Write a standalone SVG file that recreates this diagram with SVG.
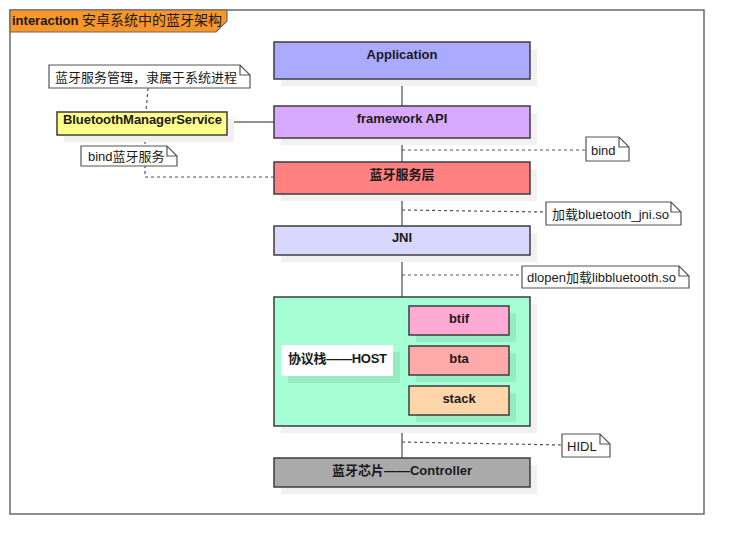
<svg xmlns="http://www.w3.org/2000/svg" width="744" height="554" viewBox="0 0 744 554">
<style>
.box{stroke:#3c3c3c;stroke-width:1.5}
.sh{fill:#f1f1f1}
.t{font-family:"Liberation Sans","Noto Sans CJK SC",sans-serif;font-size:13px;fill:#1a1a1a}
.b{font-weight:bold;text-anchor:middle}
.note{fill:#ffffff;stroke:#555;stroke-width:1.2}
.ln{stroke:#6e6e6e;stroke-width:1.5;fill:none}
.dl{stroke:#555;stroke-width:1.2;stroke-dasharray:3,3;fill:none}
</style>
<rect width="744" height="554" fill="#ffffff"/>
<g id="frame">
<rect x="10" y="10" width="694" height="504" fill="none" stroke="#6a6a6a" stroke-width="1.5"/>
<path d="M10,10 H227 V21 L216,32 H10 Z" fill="#F7962A" stroke="#6a6a6a" stroke-width="1.2"/>
<text class="t" x="12" y="25"><tspan font-weight="bold">interaction</tspan> <tspan font-size="14px">安卓系统中的蓝牙架构</tspan></text>
</g>
<g id="connectors">
<line class="ln" x1="402" y1="79" x2="402" y2="106"/>
<line class="ln" x1="402" y1="138" x2="402" y2="162"/>
<line class="ln" x1="402" y1="194" x2="402" y2="226"/>
<line class="ln" x1="402" y1="255" x2="402" y2="297"/>
<line class="ln" x1="402" y1="426" x2="402" y2="458"/>
<line class="ln" x1="459" y1="335" x2="459" y2="346"/>
<line class="ln" x1="459" y1="375" x2="459" y2="386"/>
<line class="ln" x1="227" y1="122" x2="274" y2="122"/>
<path class="dl" d="M148,88 L146,112"/>
<path class="dl" d="M145,135 V177 H274"/>
<path class="dl" d="M402,150 H586"/>
<path class="dl" d="M402,210 L546,212"/>
<path class="dl" d="M402,275 H522"/>
<path class="dl" d="M402,442 L562,445"/>
</g>
<g id="application">
<rect class="sh" x="281" y="49" width="256" height="37"/>
<rect class="box" x="274" y="42" width="256" height="37" fill="#AAAAFF"/>
<text class="t b" x="402" y="59">Application</text>
</g>
<g id="framework">
<rect class="sh" x="281" y="113" width="256" height="32"/>
<rect class="box" x="274" y="106" width="256" height="32" fill="#D7AAFF"/>
<text class="t b" x="402" y="123">framework API</text>
</g>
<g id="btservice">
<rect class="sh" x="281" y="169" width="256" height="32"/>
<rect class="box" x="274" y="162" width="256" height="32" fill="#FF8080"/>
<text class="t b" x="402" y="179">蓝牙服务层</text>
</g>
<g id="jni">
<rect class="sh" x="281" y="233" width="256" height="29"/>
<rect class="box" x="274" y="226" width="256" height="29" fill="#D8D8FF"/>
<text class="t b" x="402" y="242">JNI</text>
</g>
<g id="host">
<rect class="sh" x="281" y="304" width="256" height="129"/>
<rect class="box" x="274" y="297" width="256" height="129" fill="#A6FFD4"/>
<rect x="288" y="352" width="112" height="31" fill="#96ecc2"/>
<rect x="281" y="345" width="112" height="31" fill="#ffffff"/>
<text class="t" x="288" y="363" font-weight="bold" textLength="99">协议栈——HOST</text>
</g>
<g id="btif">
<rect x="416" y="313" width="100" height="29" fill="#96ecc2"/>
<rect class="box" x="409" y="306" width="100" height="29" fill="#FFAAD4"/>
<text class="t b" x="459" y="323">btif</text>
</g>
<g id="bta">
<rect x="416" y="353" width="100" height="29" fill="#96ecc2"/>
<rect class="box" x="409" y="346" width="100" height="29" fill="#FFAAAA"/>
<text class="t b" x="459" y="363">bta</text>
</g>
<g id="stack">
<rect x="416" y="393" width="100" height="29" fill="#96ecc2"/>
<rect class="box" x="409" y="386" width="100" height="29" fill="#FFD6AA"/>
<text class="t b" x="459" y="403">stack</text>
</g>
<g id="controller">
<rect class="sh" x="281" y="465" width="256" height="29"/>
<rect class="box" x="274" y="458" width="256" height="29" fill="#AAAAAA"/>
<text class="t b" x="402" y="475">蓝牙芯片——Controller</text>
</g>
<g id="bms">
<rect class="sh" x="64" y="119" width="170" height="23"/>
<rect class="box" x="57" y="112" width="170" height="23" fill="#FFFF88"/>
<text class="t" x="63" y="124" font-weight="bold" textLength="159">BluetoothManagerService</text>
</g>
<g id="note-bms">
<path class="note" d="M49,65 H240 L250,75 V88 H49 Z M240,65 V75 H250"/>
<text class="t" x="55" y="82">蓝牙服务管理，隶属于系统进程</text>
</g>
<g id="note-bindservice">
<path class="note" d="M81,146 H167 L177,156 V166 H81 Z M167,146 V156 H177"/>
<text class="t" x="88" y="161">bind蓝牙服务</text>
</g>
<g id="note-bind">
<path class="note" d="M586,137 H619 L629,147 V161 H586 Z M619,137 V147 H629"/>
<text class="t" x="591" y="155">bind</text>
</g>
<g id="note-jni">
<path class="note" d="M546,202 H671 L681,212 V225 H546 Z M671,202 V212 H681"/>
<text class="t" x="552" y="219">加载bluetooth_jni.so</text>
</g>
<g id="note-dlopen">
<path class="note" d="M522,266 H679 L689,276 V288 H522 Z M679,266 V276 H689"/>
<text class="t" x="527" y="282">dlopen加载libbluetooth.so</text>
</g>
<g id="note-hidl">
<path class="note" d="M562,434 H600 L610,444 V457 H562 Z M600,434 V444 H610"/>
<text class="t" x="567" y="451">HIDL</text>
</g>
</svg>
